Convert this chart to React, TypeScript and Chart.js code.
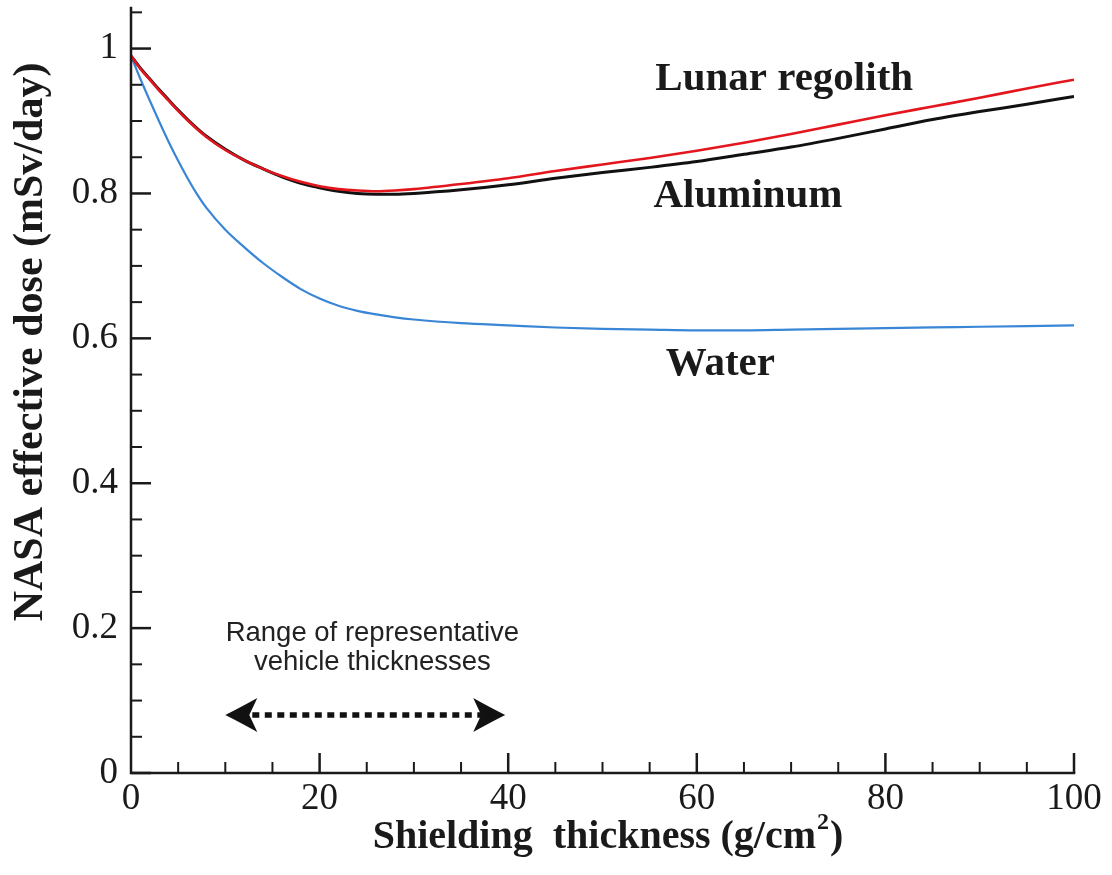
import React, { useEffect, useRef } from 'react';
import { Chart, registerables } from 'chart.js';

Chart.register(...registerables);

// Shielding thickness samples (g/cm^2)
const THICKNESS = [0, 1, 2, 3, 4, 5, 6, 7, 8, 10, 12, 14, 16, 18, 20, 22, 24, 26, 28, 30, 35, 40, 45, 50, 55, 60, 65, 70, 75, 80, 85, 90, 95, 100];

// NASA effective dose (mSv/day) behind each material
const LUNAR_REGOLITH = [0.990, 0.972, 0.957, 0.942, 0.928, 0.914, 0.901, 0.889, 0.878, 0.860, 0.846, 0.834, 0.824, 0.816, 0.810, 0.806, 0.804, 0.803, 0.804, 0.806, 0.813, 0.821, 0.831, 0.840, 0.849, 0.859, 0.870, 0.882, 0.895, 0.908, 0.920, 0.932, 0.945, 0.957];
const ALUMINUM = [0.990, 0.973, 0.958, 0.943, 0.929, 0.915, 0.902, 0.890, 0.879, 0.861, 0.846, 0.834, 0.823, 0.814, 0.808, 0.803, 0.800, 0.799, 0.799, 0.800, 0.805, 0.812, 0.821, 0.829, 0.836, 0.844, 0.854, 0.864, 0.876, 0.889, 0.902, 0.913, 0.923, 0.934];
const WATER = [0.990, 0.958, 0.928, 0.899, 0.871, 0.845, 0.821, 0.799, 0.780, 0.750, 0.726, 0.704, 0.685, 0.668, 0.655, 0.645, 0.638, 0.633, 0.629, 0.626, 0.621, 0.618, 0.615, 0.613, 0.612, 0.611, 0.611, 0.612, 0.613, 0.614, 0.615, 0.616, 0.617, 0.618];

const X_TICKS = [0, 20, 40, 60, 80, 100];
const Y_TICKS = [0, 0.2, 0.4, 0.6, 0.8, 1];

// Range of representative vehicle thicknesses (g/cm^2)
const VEHICLE_RANGE = [10, 40];

const SERIF = "'Liberation Serif', 'Times New Roman', serif";
const SANS = "'Liberation Sans', Arial, sans-serif";
const INK = '#1a1a1a';

const decorations = {
  id: 'decorations',
  afterDraw(chart: any) {
    const { ctx, chartArea } = chart;
    const xs = chart.scales.x;
    const ys = chart.scales.y;
    const left = chartArea.left;
    const bottom = chartArea.bottom;
    ctx.save();

    // axis lines
    ctx.strokeStyle = INK;
    ctx.lineWidth = 2.5;
    ctx.lineCap = 'square';
    ctx.beginPath();
    ctx.moveTo(left, chartArea.top);
    ctx.lineTo(left, bottom);
    ctx.lineTo(chartArea.right, bottom);
    ctx.stroke();

    // inward tick marks: major every 0.2 / 20, minor every 0.05 / 5
    ctx.lineCap = 'butt';
    for (let i = 0; i <= 21; i++) {
      const major = i % 4 === 0;
      const py = ys.getPixelForValue(i * 0.05);
      ctx.lineWidth = major ? 2.5 : 2;
      ctx.beginPath();
      ctx.moveTo(left, py);
      ctx.lineTo(left + (major ? 20 : 11), py);
      ctx.stroke();
    }
    for (let i = 1; i <= 20; i++) {
      const major = i % 4 === 0;
      const px = xs.getPixelForValue(i * 5);
      ctx.lineWidth = major ? 2.5 : 2;
      ctx.beginPath();
      ctx.moveTo(px, bottom);
      ctx.lineTo(px, bottom - (major ? 20 : 11));
      ctx.stroke();
    }

    // axis titles
    ctx.fillStyle = INK;
    ctx.textBaseline = 'middle';
    const mainFont = `bold 40px ${SERIF}`;
    const supFont = `bold 24px ${SERIF}`;
    const partA = 'Shielding  thickness (g/cm';
    const partB = '2';
    const partC = ')';
    ctx.font = mainFont;
    const wA = ctx.measureText(partA).width;
    const wC = ctx.measureText(partC).width;
    ctx.font = supFont;
    const wB = ctx.measureText(partB).width;
    const titleY = 838;
    let tx = 607 - (wA + wB + wC) / 2;
    ctx.textAlign = 'left';
    ctx.font = mainFont;
    ctx.fillText(partA, tx, titleY);
    tx += wA;
    ctx.font = supFont;
    ctx.fillText(partB, tx + 1, titleY - 15);
    tx += wB + 2;
    ctx.font = mainFont;
    ctx.fillText(partC, tx, titleY);

    ctx.save();
    ctx.translate(31, 342);
    ctx.rotate(-Math.PI / 2);
    ctx.textAlign = 'center';
    ctx.font = `bold 42px ${SERIF}`;
    ctx.fillText('NASA effective dose (mSv/day)', 0, 0);
    ctx.restore();

    // series labels
    ctx.font = `bold 41px ${SERIF}`;
    ctx.textAlign = 'left';
    ctx.fillText('Lunar regolith', xs.getPixelForValue(55.6), ys.getPixelForValue(0.957));
    ctx.fillText('Aluminum', xs.getPixelForValue(55.4), ys.getPixelForValue(0.796));
    ctx.fillText('Water', xs.getPixelForValue(56.7), ys.getPixelForValue(0.564));

    // vehicle thickness note
    ctx.fillStyle = '#222';
    ctx.font = `27.5px ${SANS}`;
    ctx.textAlign = 'center';
    const noteX = xs.getPixelForValue(25.6);
    ctx.fillText('Range of representative', noteX, ys.getPixelForValue(0.193));
    ctx.fillText('vehicle thicknesses', noteX, ys.getPixelForValue(0.153));

    // double-headed dotted arrow
    const ay = ys.getPixelForValue(0.08);
    const x1 = xs.getPixelForValue(VEHICLE_RANGE[0]);
    const x2 = xs.getPixelForValue(VEHICLE_RANGE[1]) - 3;
    ctx.strokeStyle = '#111';
    ctx.lineWidth = 5.5;
    ctx.setLineDash([7, 5.5]);
    ctx.beginPath();
    ctx.moveTo(x1 + 27, ay);
    ctx.lineTo(x2 - 24, ay);
    ctx.stroke();
    ctx.setLineDash([]);
    ctx.fillStyle = '#111';
    const head = (tip: number, dir: number) => {
      ctx.beginPath();
      ctx.moveTo(tip, ay);
      ctx.quadraticCurveTo(tip + dir * 14, ay - 7, tip + dir * 32, ay - 17);
      ctx.lineTo(tip + dir * 24, ay);
      ctx.lineTo(tip + dir * 32, ay + 17);
      ctx.quadraticCurveTo(tip + dir * 14, ay + 7, tip, ay);
      ctx.closePath();
      ctx.fill();
    };
    head(x1, 1);
    head(x2, -1);

    ctx.restore();
  },
};

const series = (values: number[]) => THICKNESS.map((x, i) => ({ x, y: values[i] }));

export default function App() {
  const ref = useRef<HTMLCanvasElement>(null);

  useEffect(() => {
    const canvas = ref.current;
    if (!canvas) return;
    const tickFont = { family: SERIF, size: 37 };
    const chart = new Chart(canvas, {
      type: 'line',
      data: {
        datasets: [
          {
            label: 'Lunar regolith',
            data: series(LUNAR_REGOLITH),
            borderColor: '#e3161d',
            borderWidth: 2.6,
            pointRadius: 0,
            cubicInterpolationMode: 'monotone',
            fill: false,
          },
          {
            label: 'Aluminum',
            data: series(ALUMINUM),
            borderColor: '#111111',
            borderWidth: 3,
            pointRadius: 0,
            cubicInterpolationMode: 'monotone',
            fill: false,
          },
          {
            label: 'Water',
            data: series(WATER),
            borderColor: '#3a86d6',
            borderWidth: 2.2,
            pointRadius: 0,
            cubicInterpolationMode: 'monotone',
            fill: false,
          },
        ],
      },
      options: {
        animation: false,
        responsive: false,
        devicePixelRatio: 1,
        layout: { padding: { top: 8, right: 38, left: 0, bottom: 0 } },
        plugins: {
          legend: { display: false },
          tooltip: { enabled: false },
        },
        scales: {
          x: {
            type: 'linear',
            min: 0,
            max: 100,
            grid: { display: false, drawTicks: false },
            border: { display: false },
            afterBuildTicks: (s: any) => {
              s.ticks = X_TICKS.map((v) => ({ value: v }));
            },
            afterFit: (s: any) => {
              s.height = 102;
              s.paddingLeft = 0;
              s.paddingRight = 0;
            },
            ticks: {
              font: tickFont,
              color: INK,
              padding: 4,
              maxRotation: 0,
              autoSkip: false,
              callback: (v: any) => String(v),
            },
          },
          y: {
            type: 'linear',
            min: 0,
            max: 1.056,
            grid: { display: false, drawTicks: false },
            border: { display: false },
            afterBuildTicks: (s: any) => {
              s.ticks = Y_TICKS.map((v) => ({ value: v }));
            },
            afterFit: (s: any) => {
              s.width = 131;
              s.paddingTop = 0;
              s.paddingBottom = 0;
            },
            ticks: {
              font: tickFont,
              color: INK,
              padding: 13,
              autoSkip: false,
              callback: (v: any) => (v === 0 || v === 1 ? String(v) : Number(v).toFixed(1)),
            },
          },
        },
      },
      plugins: [decorations],
    });
    return () => chart.destroy();
  }, []);

  return (
    <div style={{ position: 'fixed', left: 0, top: 0, width: 1112, height: 875, background: '#fff' }}>
      <canvas ref={ref} width={1112} height={875} style={{ display: 'block' }} />
    </div>
  );
}
